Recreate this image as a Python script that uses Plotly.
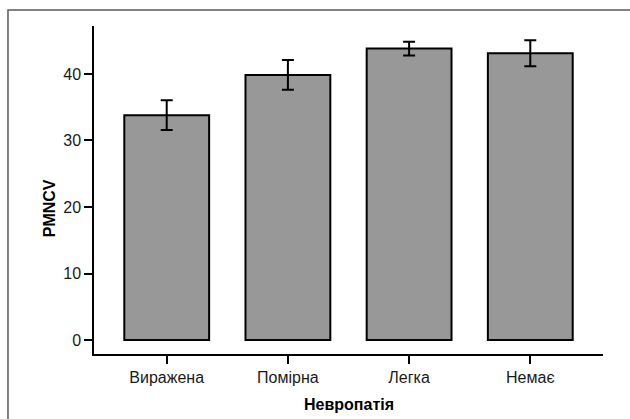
import plotly.graph_objects as go

# Mean PMNCV by neuropathy severity, with error bars
categories = ["Виражена", "Помірна", "Легка", "Немає"]
pmncv_mean = [33.8, 39.85, 43.8, 43.1]
pmncv_err = [2.25, 2.25, 1.05, 1.95]
y_ticks = [0, 10, 20, 30, 40]

font_family = "Liberation Sans, Arial, sans-serif"

fig = go.Figure(
    go.Bar(
        x=categories,
        y=pmncv_mean,
        width=0.70,
        marker=dict(color="#989898", line=dict(color="#000000", width=2)),
        error_y=dict(
            type="data",
            array=pmncv_err,
            visible=True,
            color="#000000",
            thickness=2,
            width=6,
        ),
        hoverinfo="skip",
    )
)

fig.update_layout(
    width=630,
    height=419,
    margin=dict(l=94, r=27, t=26, b=65),
    paper_bgcolor="#ffffff",
    plot_bgcolor="#ffffff",
    showlegend=False,
    font=dict(family=font_family, size=16, color="#1a1a1a"),
    xaxis=dict(
        range=[-0.6, 3.6],
        showgrid=False,
        zeroline=False,
        showline=True,
        linecolor="#000000",
        linewidth=1.5,
        ticks="outside",
        ticklen=8,
        tickwidth=1.5,
        tickcolor="#000000",
        tickfont=dict(family=font_family, size=16, color="#1a1a1a"),
    ),
    yaxis=dict(
        range=[-2.1, 47.2],
        tickvals=y_ticks,
        showgrid=False,
        zeroline=False,
        showline=True,
        linecolor="#000000",
        linewidth=1.5,
        ticks="outside",
        ticklen=8,
        tickwidth=1.5,
        tickcolor="#000000",
        tickfont=dict(family=font_family, size=16, color="#1a1a1a"),
    ),
    shapes=[
        dict(
            type="rect",
            xref="paper",
            yref="paper",
            x0=-0.169,
            x1=1.2,
            y0=-0.4,
            y1=1.0488,
            line=dict(color="#5a5a5a", width=1.5),
            fillcolor="rgba(0,0,0,0)",
            layer="below",
        )
    ],
    annotations=[
        dict(
            text="<b>PMNCV</b>",
            xref="paper",
            yref="paper",
            x=-0.088,
            y=0.445,
            xanchor="center",
            yanchor="middle",
            textangle=-90,
            showarrow=False,
            font=dict(family=font_family, size=16, color="#000000"),
        ),
        dict(
            text="<b>Невропатія</b>",
            xref="paper",
            yref="paper",
            x=0.5,
            y=-0.155,
            xanchor="center",
            yanchor="middle",
            showarrow=False,
            font=dict(family=font_family, size=16, color="#000000"),
        ),
    ],
)

fig.write_html("out.html")
